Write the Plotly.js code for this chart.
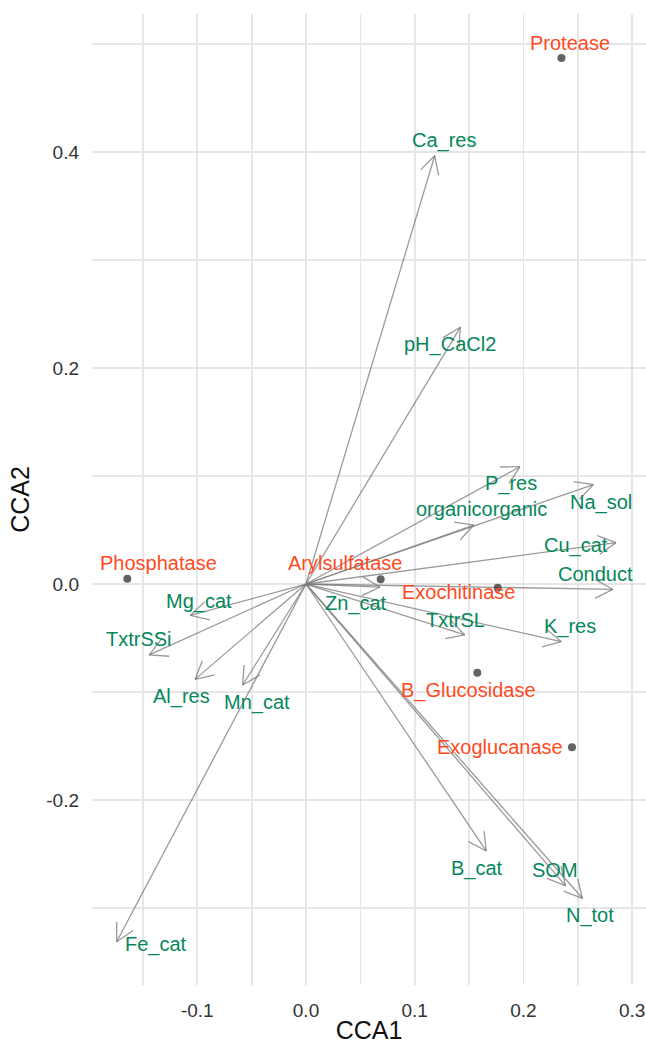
<!DOCTYPE html>
<html>
<head>
<meta charset="utf-8">
<script src="https://cdn.plot.ly/plotly-3.0.1.min.js"></script>
<style>html,body{margin:0;padding:0;background:#fff;}#chart{width:646px;height:1044px;}</style>
</head>
<body>
<div id="chart"></div>
<script>
// ---- data ----
const enzymes = ['Protease','Phosphatase','Arylsulfatase','Exochitinase','B_Glucosidase','Exoglucanase'];
const enzCCA1 = [0.235, -0.1644, 0.0687, 0.1764, 0.1576, 0.2447];
const enzCCA2 = [0.487, 0.0049, 0.0043, -0.0034, -0.0821, -0.1512];

const envVars = ['Ca_res','pH_CaCl2','P_res','Na_sol','organicorganic','Cu_cat','Conduct','K_res','TxtrSL','Zn_cat','Mg_cat','TxtrSSi','Al_res','Mn_cat','Fe_cat','B_cat','SOM','N_tot'];
const envCCA1 = [0.1184, 0.1419, 0.1969, 0.2643, 0.1544, 0.2852, 0.2822, 0.2348, 0.1461, 0.0681, -0.1064, -0.1443, -0.1021, -0.0583, -0.1742, 0.1658, 0.2387, 0.2543];
const envCCA2 = [0.3966, 0.2377, 0.1086, 0.0920, 0.0546, 0.0383, -0.0049, -0.0534, -0.0472, -0.0028, -0.0290, -0.0657, -0.0883, -0.0935, -0.3312, -0.2472, -0.2793, -0.2910];

const xTickVals = [-0.1, 0.0, 0.1, 0.2, 0.3];
const xTickText = ['-0.1', '0.0', '0.1', '0.2', '0.3'];
const yTickVals = [-0.2, 0.0, 0.2, 0.4];
const yTickText = ['-0.2', '0.0', '0.2', '0.4'];

// ---- label placement (pixel offsets from the mark, repel-style) ----
const enzLabelOffset = {
  Protease: [9, 15], Phosphatase: [31, 16], Arylsulfatase: [-35, 16],
  Exochitinase: [-39, -4], B_Glucosidase: [-9, -18], Exoglucanase: [-72, 0]
};
const envLabelOffset = {
  Ca_res: [9, 15], pH_CaCl2: [-10, -17], P_res: [-9, -17], Na_sol: [8, -18],
  organicorganic: [8, 16], Cu_cat: [-40, -3], Conduct: [-17, 15], K_res: [9, 15],
  TxtrSL: [-9, 15], Zn_cat: [-24, -16], Mg_cat: [9, 14], TxtrSSi: [-10, 16],
  Al_res: [-14, -17], Mn_cat: [14, -18], Fe_cat: [39, -3], B_cat: [-9, -18],
  SOM: [-10, 16], N_tot: [8, -17]
};

// ---- layout geometry ----
const W = 646, H = 1044;
const M = {l: 92, r: 0, t: 14, b: 59};
const xRange = [-0.1969, 0.3128];
const yRange = [-0.3713, 0.5278];
const pxX = (W - M.l - M.r) / (xRange[1] - xRange[0]);
const pxY = (H - M.t - M.b) / (yRange[1] - yRange[0]);

const FONT = 'Liberation Sans, Arial, Helvetica, sans-serif';
const RED = '#ff4a1f';
const GREEN = '#05875a';

// arrows: shaft + open head, computed from the data through the axis scale
const ax = [], ay = [];
const headLen = 20, headAng = 28 * Math.PI / 180;
for (let i = 0; i < envVars.length; i++) {
  const x = envCCA1[i], y = envCCA2[i];
  ax.push(0, x, null); ay.push(0, y, null);
  const ang = Math.atan2(y * pxY, x * pxX);
  for (const s of [1, -1]) {
    const a = ang + Math.PI + s * headAng;
    ax.push(x, x + headLen * Math.cos(a) / pxX, null);
    ay.push(y, y + headLen * Math.sin(a) / pxY, null);
  }
}

const traces = [
  {type: 'scatter', mode: 'lines', x: ax, y: ay, hoverinfo: 'skip',
   line: {color: 'rgba(120,120,120,0.75)', width: 1.3}, showlegend: false},
  {type: 'scatter', mode: 'markers', x: enzCCA1, y: enzCCA2, text: enzymes,
   marker: {size: 8, color: 'rgba(60,60,60,0.8)', line: {width: 0}}, showlegend: false}
];

const annotations = [];
enzymes.forEach((n, i) => {
  const o = enzLabelOffset[n];
  annotations.push({x: enzCCA1[i], y: enzCCA2[i], text: n, showarrow: false,
    xshift: o[0], yshift: o[1], font: {family: FONT, size: 20, color: RED}});
});
envVars.forEach((n, i) => {
  const o = envLabelOffset[n];
  annotations.push({x: envCCA1[i], y: envCCA2[i], text: n, showarrow: false,
    xshift: o[0], yshift: o[1], font: {family: FONT, size: 20, color: GREEN}});
});

const gridColor = '#e6e6e6';
const layout = {
  width: W, height: H, margin: M,
  paper_bgcolor: '#fff', plot_bgcolor: '#fff',
  font: {family: FONT, color: '#333'},
  showlegend: false,
  xaxis: {
    range: xRange, tickmode: 'array', tickvals: xTickVals, ticktext: xTickText,
    showgrid: true, gridcolor: gridColor, gridwidth: 1.7, zeroline: false, showline: false,
    ticks: '', ticklabelstandoff: 12, tickfont: {size: 19, color: '#333'},
    minor: {tickmode: 'linear', tick0: 0, dtick: 0.05, showgrid: true, gridcolor: gridColor, gridwidth: 1.7},
    title: {text: 'CCA1', font: {size: 25, color: '#111'}, standoff: 14},
    automargin: false
  },
  yaxis: {
    range: yRange, tickmode: 'array', tickvals: yTickVals, ticktext: yTickText,
    showgrid: true, gridcolor: gridColor, gridwidth: 1.7, zeroline: false, showline: false,
    ticks: '', ticklabelstandoff: 12, tickfont: {size: 19, color: '#333'},
    minor: {tickmode: 'linear', tick0: 0, dtick: 0.1, showgrid: true, gridcolor: gridColor, gridwidth: 1.7},
    title: {text: 'CCA2', font: {size: 25, color: '#111'}, standoff: 9},
    automargin: false
  },
  annotations: annotations
};

Plotly.newPlot('chart', traces, layout, {staticPlot: true, displayModeBar: false});
</script>
</body>
</html>
